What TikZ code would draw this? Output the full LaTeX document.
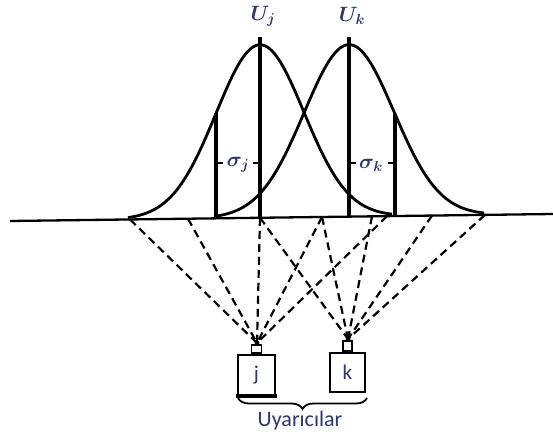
\documentclass[tikz,border=0pt]{standalone}
\usepackage{fontspec}
\newfontfamily\carl{Carlito}
\usetikzlibrary{decorations.pathreplacing}
\definecolor{txt}{RGB}{45,55,105}
\begin{document}
\begin{tikzpicture}[x=1pt,y=-1pt,
  declare function={
    bl(\x)=221-0.0129*(\x-10);
    gj(\x)=bl(\x)-173*exp(-0.5*((\x-260)/44)^2);
    gk(\x)=bl(\x)-172*exp(-0.5*((\x-349)/45)^2);
  },
  base/.style={line width=2.3pt},
  curve/.style={line width=2.8pt},
  vline/.style={line width=4.4pt},
  tick/.style={line width=2.6pt},
  ray/.style={line width=2.2pt, dash pattern=on 8pt off 5pt},
  lbl/.style={text=txt, inner sep=0pt},
  mlbl/.style={text=txt, inner sep=0pt, font=\huge\boldmath},
  box/.style={draw=black, line width=2pt, inner sep=0pt, text=txt,
    font=\carl\fontsize{21}{25}\selectfont},
  stub/.style={draw=black, line width=1.8pt, inner sep=0pt}]
\useasboundingbox (0,0) rectangle (553,438);
% baseline
\coordinate (bL) at (10,221);
\coordinate (bR) at (553,214);
\draw[base] (bL) -- (bR);
% gaussian curves
\draw[curve] plot[domain=128:392, samples=120, smooth] (\x,{gj(\x)});
\draw[curve] plot[domain=214:484, samples=120, smooth] (\x,{gk(\x)});
% vertical lines
\coordinate (jc0) at (260,{bl(260)});
\coordinate (jc1) at (260,37);
\coordinate (kc0) at (349,{bl(349)});
\coordinate (kc1) at (349,37);
\coordinate (js0) at (216,{bl(216)});
\coordinate (js1) at (216,{gj(216)});
\coordinate (ks0) at (395,{bl(395)});
\coordinate (ks1) at (395,{gk(395)});
\draw[vline] (jc0) -- (jc1);
\draw[vline] (kc0) -- (kc1);
\draw[vline] (js0) -- (js1);
\draw[vline] (ks0) -- (ks1);
% labels
\node[mlbl] (Uj) at (263,16) {$U_j$};
\node[mlbl] (Uk) at (352,16) {$U_k$};
\node[mlbl] (sj) at (238,165) {$\sigma_j$};
\node[mlbl] (sk) at (371,165) {$\sigma_k$};
\coordinate (tj1a) at (216,163); \coordinate (tj1b) at (223,163);
\coordinate (tj2a) at (253,163); \coordinate (tj2b) at (260,163);
\coordinate (tk1a) at (349,163); \coordinate (tk1b) at (356,163);
\coordinate (tk2a) at (388,163); \coordinate (tk2b) at (395,163);
\draw[tick] (tj1a) -- (tj1b);
\draw[tick] (tj2a) -- (tj2b);
\draw[tick] (tk1a) -- (tk1b);
\draw[tick] (tk2a) -- (tk2b);
% stimulus boxes
\node[box, minimum width=37pt, minimum height=40pt] (jb) at (256.5,375) {j};
\node[box, minimum width=35pt, minimum height=39pt] (kb) at (347.5,372.5) {k};
\draw[line width=3.6pt] ([xshift=-1pt]jb.south west) -- ([xshift=1pt]jb.south east);
\node[stub, minimum width=10pt, minimum height=8pt, anchor=south] (jst) at (jb.north) {};
\node[stub, minimum width=9pt, minimum height=10pt, anchor=south] (kst) at (kb.north) {};
\coordinate (fj) at (257,343);
\coordinate (fk) at (348,339);
\draw[line width=2.4pt] (fj) -- (jst.north);
\draw[line width=2.4pt] (fk) -- (kst.north);
\fill (fj) circle (2.4pt);
\fill (fk) circle (2.4pt);
% dashed rays
\foreach \x [count=\i] in {130,188,260,322,387} {
  \coordinate (rj\i) at (\x,{bl(\x)});
  \draw[ray] (rj\i) -- (fj);
}
\foreach \x [count=\i] in {260,322,372,432,485} {
  \coordinate (rk\i) at (\x,{bl(\x)});
  \draw[ray] (rk\i) -- (fk);
}
% brace
\coordinate (brR) at (367,398);
\coordinate (brL) at (238,398);
\draw[line width=1.8pt, decorate, decoration={brace, amplitude=11pt}] (brR) -- (brL);
\node[lbl, font=\carl\fontsize{22}{26}\selectfont] (ul) at (300,421) {Uyarıcılar};
\end{tikzpicture}
\end{document}
